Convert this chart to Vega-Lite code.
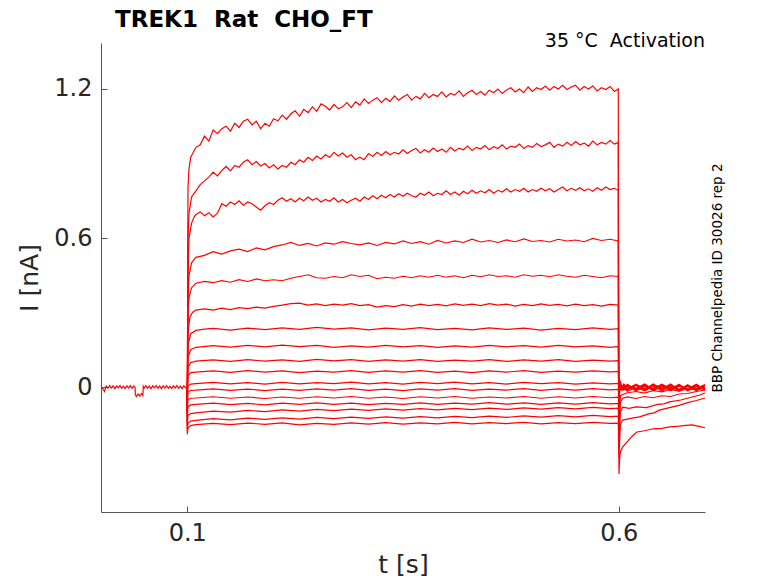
{
  "$schema": "https://vega.github.io/schema/vega-lite/v6.json",
  "width": 604,
  "height": 469,
  "autosize": {"type": "none"},
  "padding": {"left": 101, "top": 43, "right": 73, "bottom": 71},
  "title": {
    "text": "TREK1 \u00a0Rat \u00a0CHO_FT",
    "anchor": "start",
    "frame": "group",
    "dx": 14,
    "dy": 18,
    "offset": 0,
    "baseline": "alphabetic",
    "font": "DejaVu Sans",
    "fontSize": 23,
    "fontWeight": "bold",
    "color": "#000000"
  },
  "layer": [
    {
      "data": {"values": [
        {"n":0,"t":0,"i":0.002},{"n":0,"t":0.002,"i":-0.006},{"n":0,"t":0.004,"i":-0.018},{"n":0,"t":0.006,"i":0.004},{"n":0,"t":0.008,"i":-0.005},{"n":0,"t":0.01,"i":0.006},{"n":0,"t":0.012,"i":-0.004},{"n":0,"t":0.014,"i":0.005},{"n":0,"t":0.016,"i":-0.006},{"n":0,"t":0.018,"i":0.004},{"n":0,"t":0.02,"i":-0.003},{"n":0,"t":0.022,"i":0.006},{"n":0,"t":0.024,"i":-0.005},{"n":0,"t":0.026,"i":0.003},{"n":0,"t":0.028,"i":-0.006},{"n":0,"t":0.03,"i":0.005},{"n":0,"t":0.032,"i":-0.004},{"n":0,"t":0.034,"i":0.006},{"n":0,"t":0.036,"i":-0.005},{"n":0,"t":0.038,"i":0.004},{"n":0,"t":0.0395,"i":-0.002},{"n":0,"t":0.0398,"i":-0.03},{"n":0,"t":0.041,"i":-0.038},{"n":0,"t":0.043,"i":-0.028},{"n":0,"t":0.045,"i":-0.036},{"n":0,"t":0.047,"i":-0.026},{"n":0,"t":0.0485,"i":-0.034},{"n":0,"t":0.049,"i":0.003},{"n":0,"t":0.05,"i":-0.004},{"n":0,"t":0.052,"i":0.006},{"n":0,"t":0.054,"i":-0.005},{"n":0,"t":0.056,"i":0.004},{"n":0,"t":0.058,"i":-0.006},{"n":0,"t":0.06,"i":0.005},{"n":0,"t":0.062,"i":-0.003},{"n":0,"t":0.064,"i":0.006},{"n":0,"t":0.066,"i":-0.005},{"n":0,"t":0.068,"i":0.004},{"n":0,"t":0.07,"i":-0.006},{"n":0,"t":0.072,"i":0.005},{"n":0,"t":0.074,"i":-0.004},{"n":0,"t":0.076,"i":0.006},{"n":0,"t":0.078,"i":-0.005},{"n":0,"t":0.08,"i":0.003},{"n":0,"t":0.082,"i":-0.006},{"n":0,"t":0.084,"i":0.005},{"n":0,"t":0.086,"i":-0.004},{"n":0,"t":0.088,"i":0.006},{"n":0,"t":0.09,"i":-0.005},{"n":0,"t":0.092,"i":0.004},{"n":0,"t":0.094,"i":-0.006},{"n":0,"t":0.096,"i":0.005},{"n":0,"t":0.098,"i":-0.003},{"n":0,"t":0.0998,"i":0},

        {"n":1,"t":0.0995,"i":0},{"n":1,"t":0.1,"i":-0.1},{"n":1,"t":0.1008,"i":0.8},{"n":1,"t":0.102,"i":0.88},{"n":1,"t":0.104,"i":0.925},{"n":1,"t":0.107,"i":0.945},{"n":1,"t":0.11,"i":0.965},{"n":1,"t":0.115,"i":0.975},{"n":1,"t":0.12,"i":1.01},{"n":1,"t":0.125,"i":0.99},{"n":1,"t":0.13,"i":1.035},{"n":1,"t":0.135,"i":1.02},{"n":1,"t":0.14,"i":1.04},{"n":1,"t":0.145,"i":1.05},{"n":1,"t":0.15,"i":1.03},{"n":1,"t":0.155,"i":1.062},{"n":1,"t":0.16,"i":1.045},{"n":1,"t":0.165,"i":1.07},{"n":1,"t":0.17,"i":1.078},{"n":1,"t":0.175,"i":1.055},{"n":1,"t":0.18,"i":1.07},{"n":1,"t":0.185,"i":1.04},{"n":1,"t":0.19,"i":1.062},{"n":1,"t":0.195,"i":1.05},{"n":1,"t":0.2,"i":1.08},{"n":1,"t":0.205,"i":1.072},{"n":1,"t":0.21,"i":1.095},{"n":1,"t":0.215,"i":1.078},{"n":1,"t":0.22,"i":1.1},{"n":1,"t":0.225,"i":1.112},{"n":1,"t":0.23,"i":1.09},{"n":1,"t":0.235,"i":1.118},{"n":1,"t":0.24,"i":1.105},{"n":1,"t":0.245,"i":1.128},{"n":1,"t":0.25,"i":1.11},{"n":1,"t":0.255,"i":1.14},{"n":1,"t":0.26,"i":1.13},{"n":1,"t":0.265,"i":1.115},{"n":1,"t":0.27,"i":1.138},{"n":1,"t":0.275,"i":1.12},{"n":1,"t":0.28,"i":1.128},{"n":1,"t":0.285,"i":1.145},{"n":1,"t":0.29,"i":1.125},{"n":1,"t":0.295,"i":1.148},{"n":1,"t":0.3,"i":1.135},{"n":1,"t":0.305,"i":1.16},{"n":1,"t":0.31,"i":1.142},{"n":1,"t":0.315,"i":1.155},{"n":1,"t":0.32,"i":1.165},{"n":1,"t":0.325,"i":1.145},{"n":1,"t":0.33,"i":1.162},{"n":1,"t":0.335,"i":1.15},{"n":1,"t":0.34,"i":1.172},{"n":1,"t":0.345,"i":1.155},{"n":1,"t":0.35,"i":1.168},{"n":1,"t":0.355,"i":1.178},{"n":1,"t":0.36,"i":1.155},{"n":1,"t":0.365,"i":1.17},{"n":1,"t":0.37,"i":1.16},{"n":1,"t":0.375,"i":1.182},{"n":1,"t":0.38,"i":1.165},{"n":1,"t":0.385,"i":1.178},{"n":1,"t":0.39,"i":1.17},{"n":1,"t":0.395,"i":1.188},{"n":1,"t":0.4,"i":1.168},{"n":1,"t":0.405,"i":1.182},{"n":1,"t":0.41,"i":1.175},{"n":1,"t":0.415,"i":1.192},{"n":1,"t":0.42,"i":1.17},{"n":1,"t":0.425,"i":1.185},{"n":1,"t":0.43,"i":1.195},{"n":1,"t":0.435,"i":1.178},{"n":1,"t":0.44,"i":1.19},{"n":1,"t":0.445,"i":1.175},{"n":1,"t":0.45,"i":1.195},{"n":1,"t":0.455,"i":1.185},{"n":1,"t":0.46,"i":1.2},{"n":1,"t":0.465,"i":1.182},{"n":1,"t":0.47,"i":1.196},{"n":1,"t":0.475,"i":1.205},{"n":1,"t":0.48,"i":1.188},{"n":1,"t":0.485,"i":1.2},{"n":1,"t":0.49,"i":1.185},{"n":1,"t":0.495,"i":1.208},{"n":1,"t":0.5,"i":1.19},{"n":1,"t":0.505,"i":1.205},{"n":1,"t":0.51,"i":1.198},{"n":1,"t":0.515,"i":1.212},{"n":1,"t":0.52,"i":1.195},{"n":1,"t":0.525,"i":1.21},{"n":1,"t":0.53,"i":1.2},{"n":1,"t":0.535,"i":1.215},{"n":1,"t":0.54,"i":1.198},{"n":1,"t":0.545,"i":1.208},{"n":1,"t":0.55,"i":1.215},{"n":1,"t":0.555,"i":1.195},{"n":1,"t":0.56,"i":1.21},{"n":1,"t":0.565,"i":1.2},{"n":1,"t":0.57,"i":1.212},{"n":1,"t":0.575,"i":1.192},{"n":1,"t":0.58,"i":1.205},{"n":1,"t":0.585,"i":1.198},{"n":1,"t":0.59,"i":1.21},{"n":1,"t":0.595,"i":1.19},{"n":1,"t":0.5995,"i":1.2},{"n":1,"t":0.6,"i":0.02},{"n":1,"t":0.6004,"i":-0.06},{"n":1,"t":0.601,"i":0.03},{"n":1,"t":0.603,"i":0.01},{"n":1,"t":0.606,"i":-0.008},{"n":1,"t":0.61,"i":0.01},{"n":1,"t":0.62,"i":-0.012},{"n":1,"t":0.63,"i":0.008},{"n":1,"t":0.64,"i":-0.015},{"n":1,"t":0.65,"i":0.006},{"n":1,"t":0.66,"i":-0.01},{"n":1,"t":0.67,"i":0.01},{"n":1,"t":0.68,"i":-0.014},{"n":1,"t":0.69,"i":0.005},{"n":1,"t":0.7,"i":-0.008},

        {"n":2,"t":0.0995,"i":0},{"n":2,"t":0.1,"i":-0.1},{"n":2,"t":0.1008,"i":0.6},{"n":2,"t":0.102,"i":0.7},{"n":2,"t":0.105,"i":0.765},{"n":2,"t":0.11,"i":0.79},{"n":2,"t":0.115,"i":0.815},{"n":2,"t":0.12,"i":0.83},{"n":2,"t":0.125,"i":0.845},{"n":2,"t":0.13,"i":0.865},{"n":2,"t":0.135,"i":0.85},{"n":2,"t":0.14,"i":0.872},{"n":2,"t":0.145,"i":0.888},{"n":2,"t":0.15,"i":0.87},{"n":2,"t":0.155,"i":0.892},{"n":2,"t":0.16,"i":0.885},{"n":2,"t":0.165,"i":0.905},{"n":2,"t":0.17,"i":0.915},{"n":2,"t":0.175,"i":0.895},{"n":2,"t":0.18,"i":0.908},{"n":2,"t":0.185,"i":0.89},{"n":2,"t":0.19,"i":0.9},{"n":2,"t":0.195,"i":0.882},{"n":2,"t":0.2,"i":0.895},{"n":2,"t":0.205,"i":0.878},{"n":2,"t":0.21,"i":0.892},{"n":2,"t":0.215,"i":0.885},{"n":2,"t":0.22,"i":0.905},{"n":2,"t":0.225,"i":0.895},{"n":2,"t":0.23,"i":0.915},{"n":2,"t":0.235,"i":0.905},{"n":2,"t":0.24,"i":0.925},{"n":2,"t":0.245,"i":0.912},{"n":2,"t":0.25,"i":0.93},{"n":2,"t":0.255,"i":0.918},{"n":2,"t":0.26,"i":0.935},{"n":2,"t":0.265,"i":0.925},{"n":2,"t":0.27,"i":0.945},{"n":2,"t":0.275,"i":0.93},{"n":2,"t":0.28,"i":0.942},{"n":2,"t":0.285,"i":0.925},{"n":2,"t":0.29,"i":0.935},{"n":2,"t":0.295,"i":0.915},{"n":2,"t":0.3,"i":0.925},{"n":2,"t":0.305,"i":0.915},{"n":2,"t":0.31,"i":0.94},{"n":2,"t":0.315,"i":0.928},{"n":2,"t":0.32,"i":0.945},{"n":2,"t":0.325,"i":0.932},{"n":2,"t":0.33,"i":0.948},{"n":2,"t":0.335,"i":0.935},{"n":2,"t":0.34,"i":0.945},{"n":2,"t":0.345,"i":0.938},{"n":2,"t":0.35,"i":0.955},{"n":2,"t":0.355,"i":0.94},{"n":2,"t":0.36,"i":0.952},{"n":2,"t":0.365,"i":0.96},{"n":2,"t":0.37,"i":0.942},{"n":2,"t":0.375,"i":0.955},{"n":2,"t":0.38,"i":0.945},{"n":2,"t":0.385,"i":0.962},{"n":2,"t":0.39,"i":0.948},{"n":2,"t":0.395,"i":0.958},{"n":2,"t":0.4,"i":0.945},{"n":2,"t":0.405,"i":0.965},{"n":2,"t":0.41,"i":0.95},{"n":2,"t":0.415,"i":0.962},{"n":2,"t":0.42,"i":0.955},{"n":2,"t":0.425,"i":0.97},{"n":2,"t":0.43,"i":0.952},{"n":2,"t":0.435,"i":0.965},{"n":2,"t":0.44,"i":0.958},{"n":2,"t":0.445,"i":0.972},{"n":2,"t":0.45,"i":0.955},{"n":2,"t":0.455,"i":0.968},{"n":2,"t":0.46,"i":0.96},{"n":2,"t":0.465,"i":0.975},{"n":2,"t":0.47,"i":0.958},{"n":2,"t":0.475,"i":0.97},{"n":2,"t":0.48,"i":0.965},{"n":2,"t":0.485,"i":0.978},{"n":2,"t":0.49,"i":0.96},{"n":2,"t":0.495,"i":0.972},{"n":2,"t":0.5,"i":0.965},{"n":2,"t":0.505,"i":0.98},{"n":2,"t":0.51,"i":0.968},{"n":2,"t":0.515,"i":0.975},{"n":2,"t":0.52,"i":0.985},{"n":2,"t":0.525,"i":0.965},{"n":2,"t":0.53,"i":0.978},{"n":2,"t":0.535,"i":0.97},{"n":2,"t":0.54,"i":0.985},{"n":2,"t":0.545,"i":0.972},{"n":2,"t":0.55,"i":0.988},{"n":2,"t":0.555,"i":0.975},{"n":2,"t":0.56,"i":0.982},{"n":2,"t":0.565,"i":0.97},{"n":2,"t":0.57,"i":0.99},{"n":2,"t":0.575,"i":0.975},{"n":2,"t":0.58,"i":0.985},{"n":2,"t":0.585,"i":0.978},{"n":2,"t":0.59,"i":0.992},{"n":2,"t":0.595,"i":0.978},{"n":2,"t":0.5995,"i":0.985},{"n":2,"t":0.6,"i":0.01},{"n":2,"t":0.6004,"i":-0.07},{"n":2,"t":0.601,"i":0.025},{"n":2,"t":0.603,"i":-0.005},{"n":2,"t":0.606,"i":0.01},{"n":2,"t":0.61,"i":-0.01},{"n":2,"t":0.62,"i":0.012},{"n":2,"t":0.63,"i":-0.006},{"n":2,"t":0.64,"i":0.008},{"n":2,"t":0.65,"i":-0.016},{"n":2,"t":0.66,"i":0.004},{"n":2,"t":0.67,"i":-0.012},{"n":2,"t":0.68,"i":0.009},{"n":2,"t":0.69,"i":-0.015},{"n":2,"t":0.7,"i":0.006},

        {"n":3,"t":0.0995,"i":0},{"n":3,"t":0.1,"i":-0.08},{"n":3,"t":0.1008,"i":0.45},{"n":3,"t":0.102,"i":0.6},{"n":3,"t":0.105,"i":0.66},{"n":3,"t":0.108,"i":0.685},{"n":3,"t":0.11,"i":0.695},{"n":3,"t":0.115,"i":0.705},{"n":3,"t":0.12,"i":0.69},{"n":3,"t":0.125,"i":0.702},{"n":3,"t":0.13,"i":0.685},{"n":3,"t":0.135,"i":0.7},{"n":3,"t":0.14,"i":0.738},{"n":3,"t":0.145,"i":0.728},{"n":3,"t":0.15,"i":0.745},{"n":3,"t":0.155,"i":0.735},{"n":3,"t":0.16,"i":0.75},{"n":3,"t":0.165,"i":0.732},{"n":3,"t":0.17,"i":0.745},{"n":3,"t":0.175,"i":0.738},{"n":3,"t":0.18,"i":0.725},{"n":3,"t":0.185,"i":0.712},{"n":3,"t":0.19,"i":0.73},{"n":3,"t":0.195,"i":0.742},{"n":3,"t":0.2,"i":0.735},{"n":3,"t":0.205,"i":0.752},{"n":3,"t":0.21,"i":0.762},{"n":3,"t":0.215,"i":0.748},{"n":3,"t":0.22,"i":0.758},{"n":3,"t":0.225,"i":0.745},{"n":3,"t":0.23,"i":0.76},{"n":3,"t":0.235,"i":0.75},{"n":3,"t":0.24,"i":0.765},{"n":3,"t":0.245,"i":0.752},{"n":3,"t":0.25,"i":0.76},{"n":3,"t":0.255,"i":0.745},{"n":3,"t":0.26,"i":0.755},{"n":3,"t":0.265,"i":0.748},{"n":3,"t":0.27,"i":0.762},{"n":3,"t":0.275,"i":0.745},{"n":3,"t":0.28,"i":0.755},{"n":3,"t":0.285,"i":0.742},{"n":3,"t":0.29,"i":0.752},{"n":3,"t":0.295,"i":0.76},{"n":3,"t":0.3,"i":0.748},{"n":3,"t":0.305,"i":0.765},{"n":3,"t":0.31,"i":0.755},{"n":3,"t":0.315,"i":0.77},{"n":3,"t":0.32,"i":0.758},{"n":3,"t":0.325,"i":0.772},{"n":3,"t":0.33,"i":0.762},{"n":3,"t":0.335,"i":0.775},{"n":3,"t":0.34,"i":0.765},{"n":3,"t":0.345,"i":0.778},{"n":3,"t":0.35,"i":0.768},{"n":3,"t":0.355,"i":0.78},{"n":3,"t":0.36,"i":0.77},{"n":3,"t":0.365,"i":0.765},{"n":3,"t":0.37,"i":0.78},{"n":3,"t":0.375,"i":0.772},{"n":3,"t":0.38,"i":0.785},{"n":3,"t":0.385,"i":0.77},{"n":3,"t":0.39,"i":0.78},{"n":3,"t":0.395,"i":0.775},{"n":3,"t":0.4,"i":0.79},{"n":3,"t":0.405,"i":0.775},{"n":3,"t":0.41,"i":0.785},{"n":3,"t":0.415,"i":0.772},{"n":3,"t":0.42,"i":0.788},{"n":3,"t":0.425,"i":0.778},{"n":3,"t":0.43,"i":0.792},{"n":3,"t":0.435,"i":0.78},{"n":3,"t":0.44,"i":0.79},{"n":3,"t":0.445,"i":0.782},{"n":3,"t":0.45,"i":0.795},{"n":3,"t":0.455,"i":0.78},{"n":3,"t":0.46,"i":0.792},{"n":3,"t":0.465,"i":0.785},{"n":3,"t":0.47,"i":0.798},{"n":3,"t":0.475,"i":0.785},{"n":3,"t":0.48,"i":0.795},{"n":3,"t":0.485,"i":0.788},{"n":3,"t":0.49,"i":0.8},{"n":3,"t":0.495,"i":0.785},{"n":3,"t":0.5,"i":0.795},{"n":3,"t":0.505,"i":0.788},{"n":3,"t":0.51,"i":0.8},{"n":3,"t":0.515,"i":0.79},{"n":3,"t":0.52,"i":0.798},{"n":3,"t":0.525,"i":0.785},{"n":3,"t":0.53,"i":0.795},{"n":3,"t":0.535,"i":0.805},{"n":3,"t":0.54,"i":0.79},{"n":3,"t":0.545,"i":0.8},{"n":3,"t":0.55,"i":0.792},{"n":3,"t":0.555,"i":0.802},{"n":3,"t":0.56,"i":0.79},{"n":3,"t":0.565,"i":0.798},{"n":3,"t":0.57,"i":0.788},{"n":3,"t":0.575,"i":0.802},{"n":3,"t":0.58,"i":0.792},{"n":3,"t":0.585,"i":0.805},{"n":3,"t":0.59,"i":0.795},{"n":3,"t":0.595,"i":0.8},{"n":3,"t":0.5995,"i":0.792},{"n":3,"t":0.6,"i":0.0},{"n":3,"t":0.6004,"i":-0.08},{"n":3,"t":0.601,"i":0.02},{"n":3,"t":0.603,"i":0.005},{"n":3,"t":0.606,"i":-0.012},{"n":3,"t":0.61,"i":0.006},{"n":3,"t":0.62,"i":-0.008},{"n":3,"t":0.63,"i":0.012},{"n":3,"t":0.64,"i":-0.01},{"n":3,"t":0.65,"i":0.01},{"n":3,"t":0.66,"i":-0.015},{"n":3,"t":0.67,"i":0.006},{"n":3,"t":0.68,"i":-0.008},{"n":3,"t":0.69,"i":0.011},{"n":3,"t":0.7,"i":-0.012},

        {"n":4,"t":0.0995,"i":0},{"n":4,"t":0.1,"i":-0.06},{"n":4,"t":0.1008,"i":0.35},{"n":4,"t":0.102,"i":0.45},{"n":4,"t":0.105,"i":0.5},{"n":4,"t":0.11,"i":0.522},{"n":4,"t":0.12,"i":0.53},{"n":4,"t":0.13,"i":0.545},{"n":4,"t":0.14,"i":0.535},{"n":4,"t":0.15,"i":0.548},{"n":4,"t":0.16,"i":0.555},{"n":4,"t":0.17,"i":0.545},{"n":4,"t":0.18,"i":0.56},{"n":4,"t":0.19,"i":0.552},{"n":4,"t":0.2,"i":0.565},{"n":4,"t":0.21,"i":0.572},{"n":4,"t":0.22,"i":0.582},{"n":4,"t":0.23,"i":0.57},{"n":4,"t":0.24,"i":0.578},{"n":4,"t":0.25,"i":0.568},{"n":4,"t":0.26,"i":0.58},{"n":4,"t":0.27,"i":0.575},{"n":4,"t":0.28,"i":0.585},{"n":4,"t":0.29,"i":0.578},{"n":4,"t":0.3,"i":0.572},{"n":4,"t":0.31,"i":0.58},{"n":4,"t":0.32,"i":0.57},{"n":4,"t":0.33,"i":0.582},{"n":4,"t":0.34,"i":0.576},{"n":4,"t":0.35,"i":0.588},{"n":4,"t":0.36,"i":0.578},{"n":4,"t":0.37,"i":0.585},{"n":4,"t":0.38,"i":0.575},{"n":4,"t":0.39,"i":0.59},{"n":4,"t":0.4,"i":0.58},{"n":4,"t":0.41,"i":0.588},{"n":4,"t":0.42,"i":0.582},{"n":4,"t":0.43,"i":0.595},{"n":4,"t":0.44,"i":0.584},{"n":4,"t":0.45,"i":0.59},{"n":4,"t":0.46,"i":0.582},{"n":4,"t":0.47,"i":0.592},{"n":4,"t":0.48,"i":0.585},{"n":4,"t":0.49,"i":0.596},{"n":4,"t":0.5,"i":0.586},{"n":4,"t":0.51,"i":0.59},{"n":4,"t":0.52,"i":0.584},{"n":4,"t":0.53,"i":0.595},{"n":4,"t":0.54,"i":0.588},{"n":4,"t":0.55,"i":0.592},{"n":4,"t":0.56,"i":0.585},{"n":4,"t":0.57,"i":0.598},{"n":4,"t":0.58,"i":0.59},{"n":4,"t":0.59,"i":0.595},{"n":4,"t":0.5995,"i":0.588},{"n":4,"t":0.6,"i":0.01},{"n":4,"t":0.6004,"i":-0.07},{"n":4,"t":0.601,"i":0.018},{"n":4,"t":0.603,"i":-0.008},{"n":4,"t":0.606,"i":0.012},{"n":4,"t":0.61,"i":-0.005},{"n":4,"t":0.62,"i":0.01},{"n":4,"t":0.63,"i":-0.014},{"n":4,"t":0.64,"i":0.004},{"n":4,"t":0.65,"i":-0.009},{"n":4,"t":0.66,"i":0.012},{"n":4,"t":0.67,"i":-0.01},{"n":4,"t":0.68,"i":0.007},{"n":4,"t":0.69,"i":-0.006},{"n":4,"t":0.7,"i":0.01},

        {"n":5,"t":0.0995,"i":0},{"n":5,"t":0.1,"i":-0.05},{"n":5,"t":0.1008,"i":0.3},{"n":5,"t":0.102,"i":0.36},{"n":5,"t":0.105,"i":0.4},{"n":5,"t":0.11,"i":0.418},{"n":5,"t":0.12,"i":0.425},{"n":5,"t":0.13,"i":0.42},{"n":5,"t":0.14,"i":0.428},{"n":5,"t":0.15,"i":0.422},{"n":5,"t":0.16,"i":0.432},{"n":5,"t":0.17,"i":0.425},{"n":5,"t":0.18,"i":0.435},{"n":5,"t":0.19,"i":0.428},{"n":5,"t":0.2,"i":0.432},{"n":5,"t":0.21,"i":0.428},{"n":5,"t":0.22,"i":0.438},{"n":5,"t":0.23,"i":0.445},{"n":5,"t":0.24,"i":0.452},{"n":5,"t":0.25,"i":0.44},{"n":5,"t":0.26,"i":0.438},{"n":5,"t":0.27,"i":0.445},{"n":5,"t":0.28,"i":0.44},{"n":5,"t":0.29,"i":0.452},{"n":5,"t":0.3,"i":0.445},{"n":5,"t":0.31,"i":0.45},{"n":5,"t":0.32,"i":0.436},{"n":5,"t":0.33,"i":0.442},{"n":5,"t":0.34,"i":0.438},{"n":5,"t":0.35,"i":0.446},{"n":5,"t":0.36,"i":0.44},{"n":5,"t":0.37,"i":0.448},{"n":5,"t":0.38,"i":0.442},{"n":5,"t":0.39,"i":0.45},{"n":5,"t":0.4,"i":0.442},{"n":5,"t":0.41,"i":0.448},{"n":5,"t":0.42,"i":0.44},{"n":5,"t":0.43,"i":0.45},{"n":5,"t":0.44,"i":0.444},{"n":5,"t":0.45,"i":0.452},{"n":5,"t":0.46,"i":0.445},{"n":5,"t":0.47,"i":0.448},{"n":5,"t":0.48,"i":0.442},{"n":5,"t":0.49,"i":0.452},{"n":5,"t":0.5,"i":0.446},{"n":5,"t":0.51,"i":0.45},{"n":5,"t":0.52,"i":0.444},{"n":5,"t":0.53,"i":0.452},{"n":5,"t":0.54,"i":0.446},{"n":5,"t":0.55,"i":0.442},{"n":5,"t":0.56,"i":0.45},{"n":5,"t":0.57,"i":0.445},{"n":5,"t":0.58,"i":0.44},{"n":5,"t":0.59,"i":0.448},{"n":5,"t":0.5995,"i":0.445},{"n":5,"t":0.6,"i":0.015},{"n":5,"t":0.6004,"i":-0.06},{"n":5,"t":0.601,"i":0.022},{"n":5,"t":0.603,"i":0.0},{"n":5,"t":0.606,"i":-0.01},{"n":5,"t":0.61,"i":0.008},{"n":5,"t":0.62,"i":-0.016},{"n":5,"t":0.63,"i":0.005},{"n":5,"t":0.64,"i":-0.008},{"n":5,"t":0.65,"i":0.012},{"n":5,"t":0.66,"i":-0.006},{"n":5,"t":0.67,"i":0.009},{"n":5,"t":0.68,"i":-0.012},{"n":5,"t":0.69,"i":0.004},{"n":5,"t":0.7,"i":-0.01},

        {"n":6,"t":0.0995,"i":0},{"n":6,"t":0.1,"i":-0.04},{"n":6,"t":0.1008,"i":0.22},{"n":6,"t":0.103,"i":0.28},{"n":6,"t":0.106,"i":0.3},{"n":6,"t":0.11,"i":0.31},{"n":6,"t":0.12,"i":0.315},{"n":6,"t":0.13,"i":0.31},{"n":6,"t":0.14,"i":0.318},{"n":6,"t":0.15,"i":0.312},{"n":6,"t":0.16,"i":0.32},{"n":6,"t":0.17,"i":0.316},{"n":6,"t":0.18,"i":0.322},{"n":6,"t":0.19,"i":0.318},{"n":6,"t":0.2,"i":0.325},{"n":6,"t":0.21,"i":0.33},{"n":6,"t":0.22,"i":0.336},{"n":6,"t":0.23,"i":0.338},{"n":6,"t":0.24,"i":0.33},{"n":6,"t":0.25,"i":0.335},{"n":6,"t":0.26,"i":0.328},{"n":6,"t":0.27,"i":0.334},{"n":6,"t":0.28,"i":0.33},{"n":6,"t":0.29,"i":0.336},{"n":6,"t":0.3,"i":0.328},{"n":6,"t":0.31,"i":0.332},{"n":6,"t":0.32,"i":0.322},{"n":6,"t":0.33,"i":0.328},{"n":6,"t":0.34,"i":0.324},{"n":6,"t":0.35,"i":0.332},{"n":6,"t":0.36,"i":0.326},{"n":6,"t":0.37,"i":0.334},{"n":6,"t":0.38,"i":0.328},{"n":6,"t":0.39,"i":0.333},{"n":6,"t":0.4,"i":0.327},{"n":6,"t":0.41,"i":0.335},{"n":6,"t":0.42,"i":0.329},{"n":6,"t":0.43,"i":0.334},{"n":6,"t":0.44,"i":0.328},{"n":6,"t":0.45,"i":0.336},{"n":6,"t":0.46,"i":0.33},{"n":6,"t":0.47,"i":0.334},{"n":6,"t":0.48,"i":0.326},{"n":6,"t":0.49,"i":0.333},{"n":6,"t":0.5,"i":0.328},{"n":6,"t":0.51,"i":0.335},{"n":6,"t":0.52,"i":0.329},{"n":6,"t":0.53,"i":0.333},{"n":6,"t":0.54,"i":0.327},{"n":6,"t":0.55,"i":0.334},{"n":6,"t":0.56,"i":0.328},{"n":6,"t":0.57,"i":0.332},{"n":6,"t":0.58,"i":0.326},{"n":6,"t":0.59,"i":0.333},{"n":6,"t":0.5995,"i":0.33},{"n":6,"t":0.6,"i":0.01},{"n":6,"t":0.6004,"i":-0.05},{"n":6,"t":0.601,"i":0.015},{"n":6,"t":0.603,"i":-0.012},{"n":6,"t":0.606,"i":0.006},{"n":6,"t":0.61,"i":-0.01},{"n":6,"t":0.62,"i":0.007},{"n":6,"t":0.63,"i":-0.012},{"n":6,"t":0.64,"i":0.01},{"n":6,"t":0.65,"i":-0.004},{"n":6,"t":0.66,"i":0.008},{"n":6,"t":0.67,"i":-0.014},{"n":6,"t":0.68,"i":0.005},{"n":6,"t":0.69,"i":-0.01},{"n":6,"t":0.7,"i":0.008},

        {"n":7,"t":0.0995,"i":0},{"n":7,"t":0.1,"i":-0.03},{"n":7,"t":0.1008,"i":0.17},{"n":7,"t":0.104,"i":0.215},{"n":7,"t":0.11,"i":0.228},{"n":7,"t":0.12,"i":0.233},{"n":7,"t":0.13,"i":0.236},{"n":7,"t":0.15,"i":0.229},{"n":7,"t":0.17,"i":0.237},{"n":7,"t":0.19,"i":0.231},{"n":7,"t":0.21,"i":0.238},{"n":7,"t":0.23,"i":0.232},{"n":7,"t":0.25,"i":0.24},{"n":7,"t":0.27,"i":0.233},{"n":7,"t":0.29,"i":0.238},{"n":7,"t":0.31,"i":0.23},{"n":7,"t":0.33,"i":0.237},{"n":7,"t":0.35,"i":0.232},{"n":7,"t":0.37,"i":0.239},{"n":7,"t":0.39,"i":0.231},{"n":7,"t":0.41,"i":0.236},{"n":7,"t":0.43,"i":0.23},{"n":7,"t":0.45,"i":0.238},{"n":7,"t":0.47,"i":0.232},{"n":7,"t":0.49,"i":0.237},{"n":7,"t":0.51,"i":0.229},{"n":7,"t":0.53,"i":0.236},{"n":7,"t":0.55,"i":0.231},{"n":7,"t":0.57,"i":0.238},{"n":7,"t":0.59,"i":0.232},{"n":7,"t":0.5995,"i":0.235},{"n":7,"t":0.6,"i":0.005},{"n":7,"t":0.6004,"i":-0.05},{"n":7,"t":0.601,"i":0.012},{"n":7,"t":0.605,"i":-0.008},{"n":7,"t":0.61,"i":0.006},{"n":7,"t":0.62,"i":-0.012},{"n":7,"t":0.63,"i":0.004},{"n":7,"t":0.64,"i":-0.01},{"n":7,"t":0.65,"i":0.008},{"n":7,"t":0.66,"i":-0.013},{"n":7,"t":0.67,"i":0.005},{"n":7,"t":0.68,"i":-0.009},{"n":7,"t":0.69,"i":0.007},{"n":7,"t":0.7,"i":-0.011},

        {"n":8,"t":0.0995,"i":0},{"n":8,"t":0.1,"i":-0.03},{"n":8,"t":0.1008,"i":0.12},{"n":8,"t":0.104,"i":0.15},{"n":8,"t":0.11,"i":0.16},{"n":8,"t":0.13,"i":0.167},{"n":8,"t":0.15,"i":0.161},{"n":8,"t":0.17,"i":0.168},{"n":8,"t":0.19,"i":0.162},{"n":8,"t":0.21,"i":0.169},{"n":8,"t":0.23,"i":0.163},{"n":8,"t":0.25,"i":0.168},{"n":8,"t":0.27,"i":0.16},{"n":8,"t":0.29,"i":0.166},{"n":8,"t":0.31,"i":0.161},{"n":8,"t":0.33,"i":0.168},{"n":8,"t":0.35,"i":0.162},{"n":8,"t":0.37,"i":0.167},{"n":8,"t":0.39,"i":0.16},{"n":8,"t":0.41,"i":0.166},{"n":8,"t":0.43,"i":0.161},{"n":8,"t":0.45,"i":0.168},{"n":8,"t":0.47,"i":0.162},{"n":8,"t":0.49,"i":0.167},{"n":8,"t":0.51,"i":0.161},{"n":8,"t":0.53,"i":0.168},{"n":8,"t":0.55,"i":0.162},{"n":8,"t":0.57,"i":0.166},{"n":8,"t":0.59,"i":0.16},{"n":8,"t":0.5995,"i":0.164},{"n":8,"t":0.6,"i":0.0},{"n":8,"t":0.6004,"i":-0.06},{"n":8,"t":0.601,"i":0.01},{"n":8,"t":0.605,"i":-0.01},{"n":8,"t":0.61,"i":0.004},{"n":8,"t":0.62,"i":-0.008},{"n":8,"t":0.63,"i":0.009},{"n":8,"t":0.64,"i":-0.013},{"n":8,"t":0.65,"i":0.003},{"n":8,"t":0.66,"i":-0.007},{"n":8,"t":0.67,"i":0.01},{"n":8,"t":0.68,"i":-0.012},{"n":8,"t":0.69,"i":0.002},{"n":8,"t":0.7,"i":-0.006},

        {"n":9,"t":0.0995,"i":0},{"n":9,"t":0.1,"i":-0.04},{"n":9,"t":0.1008,"i":0.08},{"n":9,"t":0.104,"i":0.098},{"n":9,"t":0.11,"i":0.104},{"n":9,"t":0.13,"i":0.109},{"n":9,"t":0.15,"i":0.103},{"n":9,"t":0.17,"i":0.11},{"n":9,"t":0.19,"i":0.104},{"n":9,"t":0.21,"i":0.109},{"n":9,"t":0.23,"i":0.103},{"n":9,"t":0.25,"i":0.111},{"n":9,"t":0.27,"i":0.105},{"n":9,"t":0.29,"i":0.11},{"n":9,"t":0.31,"i":0.103},{"n":9,"t":0.33,"i":0.109},{"n":9,"t":0.35,"i":0.104},{"n":9,"t":0.37,"i":0.11},{"n":9,"t":0.39,"i":0.103},{"n":9,"t":0.41,"i":0.108},{"n":9,"t":0.43,"i":0.104},{"n":9,"t":0.45,"i":0.11},{"n":9,"t":0.47,"i":0.103},{"n":9,"t":0.49,"i":0.109},{"n":9,"t":0.51,"i":0.104},{"n":9,"t":0.53,"i":0.11},{"n":9,"t":0.55,"i":0.103},{"n":9,"t":0.57,"i":0.108},{"n":9,"t":0.59,"i":0.104},{"n":9,"t":0.5995,"i":0.106},{"n":9,"t":0.6,"i":0.0},{"n":9,"t":0.6004,"i":-0.07},{"n":9,"t":0.601,"i":0.008},{"n":9,"t":0.605,"i":-0.012},{"n":9,"t":0.61,"i":0.007},{"n":9,"t":0.62,"i":-0.006},{"n":9,"t":0.63,"i":0.011},{"n":9,"t":0.64,"i":-0.009},{"n":9,"t":0.65,"i":0.006},{"n":9,"t":0.66,"i":-0.014},{"n":9,"t":0.67,"i":0.003},{"n":9,"t":0.68,"i":-0.007},{"n":9,"t":0.69,"i":0.01},{"n":9,"t":0.7,"i":-0.013},

        {"n":10,"t":0.0995,"i":0},{"n":10,"t":0.1,"i":-0.05},{"n":10,"t":0.1008,"i":0.045},{"n":10,"t":0.104,"i":0.058},{"n":10,"t":0.11,"i":0.06},{"n":10,"t":0.13,"i":0.065},{"n":10,"t":0.15,"i":0.059},{"n":10,"t":0.17,"i":0.066},{"n":10,"t":0.19,"i":0.06},{"n":10,"t":0.21,"i":0.065},{"n":10,"t":0.23,"i":0.058},{"n":10,"t":0.25,"i":0.064},{"n":10,"t":0.27,"i":0.06},{"n":10,"t":0.29,"i":0.066},{"n":10,"t":0.31,"i":0.059},{"n":10,"t":0.33,"i":0.065},{"n":10,"t":0.35,"i":0.06},{"n":10,"t":0.37,"i":0.066},{"n":10,"t":0.39,"i":0.059},{"n":10,"t":0.41,"i":0.064},{"n":10,"t":0.43,"i":0.058},{"n":10,"t":0.45,"i":0.065},{"n":10,"t":0.47,"i":0.06},{"n":10,"t":0.49,"i":0.066},{"n":10,"t":0.51,"i":0.059},{"n":10,"t":0.53,"i":0.064},{"n":10,"t":0.55,"i":0.06},{"n":10,"t":0.57,"i":0.065},{"n":10,"t":0.59,"i":0.061},{"n":10,"t":0.5995,"i":0.063},{"n":10,"t":0.6,"i":-0.01},{"n":10,"t":0.6004,"i":-0.08},{"n":10,"t":0.601,"i":0.005},{"n":10,"t":0.605,"i":-0.006},{"n":10,"t":0.61,"i":0.01},{"n":10,"t":0.62,"i":-0.013},{"n":10,"t":0.63,"i":0.002},{"n":10,"t":0.64,"i":-0.006},{"n":10,"t":0.65,"i":0.009},{"n":10,"t":0.66,"i":-0.01},{"n":10,"t":0.67,"i":0.007},{"n":10,"t":0.68,"i":-0.015},{"n":10,"t":0.69,"i":0.004},{"n":10,"t":0.7,"i":-0.005},

        {"n":11,"t":0.0995,"i":0},{"n":11,"t":0.1,"i":-0.06},{"n":11,"t":0.1008,"i":0.005},{"n":11,"t":0.104,"i":0.012},{"n":11,"t":0.11,"i":0.014},{"n":11,"t":0.13,"i":0.019},{"n":11,"t":0.15,"i":0.013},{"n":11,"t":0.17,"i":0.018},{"n":11,"t":0.19,"i":0.012},{"n":11,"t":0.21,"i":0.019},{"n":11,"t":0.23,"i":0.013},{"n":11,"t":0.25,"i":0.018},{"n":11,"t":0.27,"i":0.014},{"n":11,"t":0.29,"i":0.02},{"n":11,"t":0.31,"i":0.013},{"n":11,"t":0.33,"i":0.018},{"n":11,"t":0.35,"i":0.012},{"n":11,"t":0.37,"i":0.019},{"n":11,"t":0.39,"i":0.014},{"n":11,"t":0.41,"i":0.02},{"n":11,"t":0.43,"i":0.013},{"n":11,"t":0.45,"i":0.018},{"n":11,"t":0.47,"i":0.012},{"n":11,"t":0.49,"i":0.019},{"n":11,"t":0.51,"i":0.014},{"n":11,"t":0.53,"i":0.018},{"n":11,"t":0.55,"i":0.012},{"n":11,"t":0.57,"i":0.017},{"n":11,"t":0.59,"i":0.013},{"n":11,"t":0.5995,"i":0.015},{"n":11,"t":0.6,"i":-0.02},{"n":11,"t":0.6004,"i":-0.09},{"n":11,"t":0.601,"i":-0.004},{"n":11,"t":0.605,"i":0.004},{"n":11,"t":0.61,"i":-0.012},{"n":11,"t":0.62,"i":0.006},{"n":11,"t":0.63,"i":-0.01},{"n":11,"t":0.64,"i":0.012},{"n":11,"t":0.65,"i":-0.007},{"n":11,"t":0.66,"i":0.005},{"n":11,"t":0.67,"i":-0.016},{"n":11,"t":0.68,"i":0.003},{"n":11,"t":0.69,"i":-0.008},{"n":11,"t":0.7,"i":0.007},

        {"n":12,"t":0.0995,"i":0},{"n":12,"t":0.1,"i":-0.07},{"n":12,"t":0.1008,"i":-0.02},{"n":12,"t":0.104,"i":-0.013},{"n":12,"t":0.11,"i":-0.012},{"n":12,"t":0.13,"i":-0.007},{"n":12,"t":0.15,"i":-0.013},{"n":12,"t":0.17,"i":-0.008},{"n":12,"t":0.19,"i":-0.014},{"n":12,"t":0.21,"i":-0.008},{"n":12,"t":0.23,"i":-0.013},{"n":12,"t":0.25,"i":-0.007},{"n":12,"t":0.27,"i":-0.012},{"n":12,"t":0.29,"i":-0.006},{"n":12,"t":0.31,"i":-0.013},{"n":12,"t":0.33,"i":-0.008},{"n":12,"t":0.35,"i":-0.014},{"n":12,"t":0.37,"i":-0.007},{"n":12,"t":0.39,"i":-0.012},{"n":12,"t":0.41,"i":-0.006},{"n":12,"t":0.43,"i":-0.013},{"n":12,"t":0.45,"i":-0.008},{"n":12,"t":0.47,"i":-0.012},{"n":12,"t":0.49,"i":-0.006},{"n":12,"t":0.51,"i":-0.013},{"n":12,"t":0.53,"i":-0.007},{"n":12,"t":0.55,"i":-0.012},{"n":12,"t":0.57,"i":-0.006},{"n":12,"t":0.59,"i":-0.011},{"n":12,"t":0.5995,"i":-0.009},{"n":12,"t":0.6,"i":-0.04},{"n":12,"t":0.6004,"i":-0.1},{"n":12,"t":0.601,"i":-0.015},{"n":12,"t":0.605,"i":-0.004},{"n":12,"t":0.61,"i":-0.016},{"n":12,"t":0.62,"i":-0.003},{"n":12,"t":0.63,"i":-0.014},{"n":12,"t":0.64,"i":0.002},{"n":12,"t":0.65,"i":-0.012},{"n":12,"t":0.66,"i":-0.002},{"n":12,"t":0.67,"i":-0.01},{"n":12,"t":0.68,"i":0.004},{"n":12,"t":0.69,"i":-0.009},{"n":12,"t":0.7,"i":0.0},

        {"n":13,"t":0.0995,"i":0},{"n":13,"t":0.1,"i":-0.1},{"n":13,"t":0.1008,"i":-0.05},{"n":13,"t":0.104,"i":-0.045},{"n":13,"t":0.11,"i":-0.044},{"n":13,"t":0.13,"i":-0.039},{"n":13,"t":0.15,"i":-0.045},{"n":13,"t":0.17,"i":-0.04},{"n":13,"t":0.19,"i":-0.046},{"n":13,"t":0.21,"i":-0.04},{"n":13,"t":0.23,"i":-0.045},{"n":13,"t":0.25,"i":-0.039},{"n":13,"t":0.27,"i":-0.044},{"n":13,"t":0.29,"i":-0.038},{"n":13,"t":0.31,"i":-0.045},{"n":13,"t":0.33,"i":-0.04},{"n":13,"t":0.35,"i":-0.046},{"n":13,"t":0.37,"i":-0.039},{"n":13,"t":0.39,"i":-0.044},{"n":13,"t":0.41,"i":-0.038},{"n":13,"t":0.43,"i":-0.045},{"n":13,"t":0.45,"i":-0.04},{"n":13,"t":0.47,"i":-0.044},{"n":13,"t":0.49,"i":-0.038},{"n":13,"t":0.51,"i":-0.045},{"n":13,"t":0.53,"i":-0.039},{"n":13,"t":0.55,"i":-0.044},{"n":13,"t":0.57,"i":-0.038},{"n":13,"t":0.59,"i":-0.043},{"n":13,"t":0.5995,"i":-0.041},{"n":13,"t":0.6,"i":-0.07},{"n":13,"t":0.6004,"i":-0.12},{"n":13,"t":0.602,"i":-0.035},{"n":13,"t":0.609,"i":-0.024},{"n":13,"t":0.62,"i":-0.018},{"n":13,"t":0.63,"i":-0.024},{"n":13,"t":0.64,"i":-0.014},{"n":13,"t":0.65,"i":-0.019},{"n":13,"t":0.66,"i":-0.01},{"n":13,"t":0.67,"i":-0.016},{"n":13,"t":0.68,"i":-0.006},{"n":13,"t":0.69,"i":-0.011},{"n":13,"t":0.7,"i":-0.003},

        {"n":14,"t":0.0995,"i":0},{"n":14,"t":0.1,"i":-0.12},{"n":14,"t":0.1008,"i":-0.08},{"n":14,"t":0.104,"i":-0.072},{"n":14,"t":0.11,"i":-0.07},{"n":14,"t":0.13,"i":-0.065},{"n":14,"t":0.15,"i":-0.071},{"n":14,"t":0.17,"i":-0.066},{"n":14,"t":0.19,"i":-0.072},{"n":14,"t":0.21,"i":-0.065},{"n":14,"t":0.23,"i":-0.07},{"n":14,"t":0.25,"i":-0.064},{"n":14,"t":0.27,"i":-0.07},{"n":14,"t":0.29,"i":-0.065},{"n":14,"t":0.31,"i":-0.071},{"n":14,"t":0.33,"i":-0.066},{"n":14,"t":0.35,"i":-0.07},{"n":14,"t":0.37,"i":-0.064},{"n":14,"t":0.39,"i":-0.07},{"n":14,"t":0.41,"i":-0.065},{"n":14,"t":0.43,"i":-0.069},{"n":14,"t":0.45,"i":-0.063},{"n":14,"t":0.47,"i":-0.069},{"n":14,"t":0.49,"i":-0.064},{"n":14,"t":0.51,"i":-0.07},{"n":14,"t":0.53,"i":-0.064},{"n":14,"t":0.55,"i":-0.069},{"n":14,"t":0.57,"i":-0.063},{"n":14,"t":0.59,"i":-0.068},{"n":14,"t":0.5995,"i":-0.066},{"n":14,"t":0.6,"i":-0.1},{"n":14,"t":0.6004,"i":-0.16},{"n":14,"t":0.602,"i":-0.06},{"n":14,"t":0.6045,"i":-0.045},{"n":14,"t":0.61,"i":-0.04},{"n":14,"t":0.62,"i":-0.046},{"n":14,"t":0.63,"i":-0.038},{"n":14,"t":0.64,"i":-0.043},{"n":14,"t":0.65,"i":-0.035},{"n":14,"t":0.66,"i":-0.038},{"n":14,"t":0.67,"i":-0.028},{"n":14,"t":0.68,"i":-0.026},{"n":14,"t":0.69,"i":-0.018},{"n":14,"t":0.7,"i":-0.012},

        {"n":15,"t":0.0995,"i":0},{"n":15,"t":0.1,"i":-0.15},{"n":15,"t":0.1008,"i":-0.115},{"n":15,"t":0.104,"i":-0.107},{"n":15,"t":0.11,"i":-0.104},{"n":15,"t":0.13,"i":-0.097},{"n":15,"t":0.15,"i":-0.101},{"n":15,"t":0.17,"i":-0.094},{"n":15,"t":0.19,"i":-0.099},{"n":15,"t":0.21,"i":-0.092},{"n":15,"t":0.23,"i":-0.097},{"n":15,"t":0.25,"i":-0.09},{"n":15,"t":0.27,"i":-0.095},{"n":15,"t":0.29,"i":-0.089},{"n":15,"t":0.31,"i":-0.094},{"n":15,"t":0.33,"i":-0.088},{"n":15,"t":0.35,"i":-0.093},{"n":15,"t":0.37,"i":-0.087},{"n":15,"t":0.39,"i":-0.092},{"n":15,"t":0.41,"i":-0.086},{"n":15,"t":0.43,"i":-0.091},{"n":15,"t":0.45,"i":-0.085},{"n":15,"t":0.47,"i":-0.09},{"n":15,"t":0.49,"i":-0.084},{"n":15,"t":0.51,"i":-0.089},{"n":15,"t":0.53,"i":-0.083},{"n":15,"t":0.55,"i":-0.088},{"n":15,"t":0.57,"i":-0.082},{"n":15,"t":0.59,"i":-0.087},{"n":15,"t":0.5995,"i":-0.085},{"n":15,"t":0.6,"i":-0.14},{"n":15,"t":0.6004,"i":-0.21},{"n":15,"t":0.602,"i":-0.1},{"n":15,"t":0.6045,"i":-0.081},{"n":15,"t":0.612,"i":-0.086},{"n":15,"t":0.62,"i":-0.08},{"n":15,"t":0.632,"i":-0.083},{"n":15,"t":0.645,"i":-0.07},{"n":15,"t":0.652,"i":-0.068},{"n":15,"t":0.659,"i":-0.06},{"n":15,"t":0.672,"i":-0.052},{"n":15,"t":0.685,"i":-0.04},{"n":15,"t":0.693,"i":-0.033},{"n":15,"t":0.7,"i":-0.024},

        {"n":16,"t":0.0995,"i":0},{"n":16,"t":0.1,"i":-0.17},{"n":16,"t":0.1008,"i":-0.145},{"n":16,"t":0.104,"i":-0.137},{"n":16,"t":0.11,"i":-0.134},{"n":16,"t":0.13,"i":-0.127},{"n":16,"t":0.15,"i":-0.132},{"n":16,"t":0.17,"i":-0.125},{"n":16,"t":0.19,"i":-0.13},{"n":16,"t":0.21,"i":-0.124},{"n":16,"t":0.23,"i":-0.129},{"n":16,"t":0.25,"i":-0.122},{"n":16,"t":0.27,"i":-0.127},{"n":16,"t":0.29,"i":-0.121},{"n":16,"t":0.31,"i":-0.126},{"n":16,"t":0.33,"i":-0.12},{"n":16,"t":0.35,"i":-0.125},{"n":16,"t":0.37,"i":-0.119},{"n":16,"t":0.39,"i":-0.124},{"n":16,"t":0.41,"i":-0.118},{"n":16,"t":0.43,"i":-0.123},{"n":16,"t":0.45,"i":-0.117},{"n":16,"t":0.47,"i":-0.122},{"n":16,"t":0.49,"i":-0.116},{"n":16,"t":0.51,"i":-0.121},{"n":16,"t":0.53,"i":-0.115},{"n":16,"t":0.55,"i":-0.12},{"n":16,"t":0.57,"i":-0.114},{"n":16,"t":0.59,"i":-0.119},{"n":16,"t":0.5995,"i":-0.117},{"n":16,"t":0.6,"i":-0.18},{"n":16,"t":0.6004,"i":-0.27},{"n":16,"t":0.602,"i":-0.15},{"n":16,"t":0.6045,"i":-0.133},{"n":16,"t":0.614,"i":-0.126},{"n":16,"t":0.624,"i":-0.12},{"n":16,"t":0.635,"i":-0.108},{"n":16,"t":0.641,"i":-0.104},{"n":16,"t":0.647,"i":-0.093},{"n":16,"t":0.66,"i":-0.082},{"n":16,"t":0.67,"i":-0.074},{"n":16,"t":0.679,"i":-0.064},{"n":16,"t":0.69,"i":-0.054},{"n":16,"t":0.7,"i":-0.044},

        {"n":17,"t":0.0995,"i":0},{"n":17,"t":0.1,"i":-0.19},{"n":17,"t":0.1008,"i":-0.165},{"n":17,"t":0.104,"i":-0.155},{"n":17,"t":0.11,"i":-0.151},{"n":17,"t":0.13,"i":-0.146},{"n":17,"t":0.15,"i":-0.151},{"n":17,"t":0.17,"i":-0.145},{"n":17,"t":0.19,"i":-0.15},{"n":17,"t":0.21,"i":-0.144},{"n":17,"t":0.23,"i":-0.152},{"n":17,"t":0.25,"i":-0.146},{"n":17,"t":0.27,"i":-0.15},{"n":17,"t":0.29,"i":-0.144},{"n":17,"t":0.31,"i":-0.149},{"n":17,"t":0.33,"i":-0.143},{"n":17,"t":0.35,"i":-0.149},{"n":17,"t":0.37,"i":-0.144},{"n":17,"t":0.39,"i":-0.148},{"n":17,"t":0.41,"i":-0.142},{"n":17,"t":0.43,"i":-0.148},{"n":17,"t":0.45,"i":-0.143},{"n":17,"t":0.47,"i":-0.147},{"n":17,"t":0.49,"i":-0.142},{"n":17,"t":0.51,"i":-0.148},{"n":17,"t":0.53,"i":-0.143},{"n":17,"t":0.55,"i":-0.147},{"n":17,"t":0.57,"i":-0.142},{"n":17,"t":0.59,"i":-0.146},{"n":17,"t":0.5995,"i":-0.145},{"n":17,"t":0.6,"i":-0.25},{"n":17,"t":0.6004,"i":-0.35},{"n":17,"t":0.601,"i":-0.29},{"n":17,"t":0.602,"i":-0.26},{"n":17,"t":0.6045,"i":-0.242},{"n":17,"t":0.61,"i":-0.22},{"n":17,"t":0.615,"i":-0.2},{"n":17,"t":0.621,"i":-0.181},{"n":17,"t":0.63,"i":-0.176},{"n":17,"t":0.64,"i":-0.168},{"n":17,"t":0.65,"i":-0.166},{"n":17,"t":0.659,"i":-0.16},{"n":17,"t":0.67,"i":-0.157},{"n":17,"t":0.678,"i":-0.154},{"n":17,"t":0.685,"i":-0.152},{"n":17,"t":0.693,"i":-0.158},{"n":17,"t":0.7,"i":-0.164}
      ]},
      "mark": {"type": "line", "color": "#ff0000", "strokeWidth": 1.2},
      "encoding": {
        "x": {
          "field": "t", "type": "quantitative",
          "scale": {"domain": [0, 0.7], "nice": false, "zero": false},
          "axis": {"values": [0.1, 0.6], "labelExpr": "format(datum.value, '.1f')", "title": "t [s]", "titlePadding": 7}
        },
        "y": {
          "field": "i", "type": "quantitative",
          "scale": {"domain": [-0.503, 1.385], "nice": false, "zero": false},
          "axis": {"values": [0, 0.6, 1.2], "labelExpr": "datum.value == 0 ? '0' : format(datum.value, '.1f')", "title": "I [nA]", "titlePadding": 11}
        },
        "detail": {"field": "n", "type": "nominal"}
      }
    },
    {
      "data": {"values": [{"label": "35 °C \u00a0Activation"}]},
      "mark": {"type": "text", "align": "right", "baseline": "alphabetic", "dy": 4, "font": "DejaVu Sans", "fontSize": 19, "color": "#000000"},
      "encoding": {
        "text": {"field": "label"},
        "x": {"datum": 0.7, "type": "quantitative", "axis": null},
        "y": {
          "datum": 1.385, "type": "quantitative",
          "axis": {
            "orient": "right",
            "title": "BBP Channelpedia ID 30026 rep 2",
            "labels": false, "ticks": false, "domain": false, "grid": false,
            "titleAngle": 270, "titleBaseline": "top", "titlePadding": 5,
            "titleFontSize": 13.5, "titleColor": "#000000"
          }
        }
      }
    }
  ],
  "resolve": {"axis": {"x": "independent", "y": "independent"}},
  "config": {
    "view": {"stroke": null},
    "axis": {
      "grid": false,
      "domainColor": "#555555",
      "domainWidth": 1,
      "tickColor": "#555555",
      "tickSize": -6,
      "labelFont": "DejaVu Sans",
      "labelFontSize": 24,
      "labelColor": "#262626",
      "labelPadding": 15,
      "titleFont": "DejaVu Sans",
      "titleFontSize": 25,
      "titleFontWeight": "normal",
      "titleColor": "#262626"
    }
  }
}
